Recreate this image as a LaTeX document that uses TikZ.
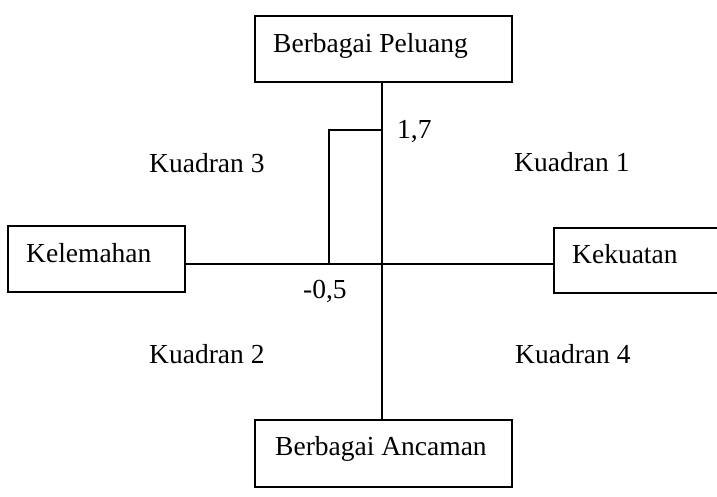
\documentclass[tikz,border=0pt]{standalone}
\usepackage{fontspec}
\setmainfont{Liberation Serif}
\begin{document}
\begin{tikzpicture}[x=1pt,y=-1pt,
  box/.style={draw, line width=1.3pt, inner sep=0pt, rectangle},
  txt/.style={anchor=base west, inner sep=0pt, font=\fontsize{27.5}{32}\selectfont},
  ln/.style={line width=1.3pt}]
\useasboundingbox (0,0) rectangle (717,496);
\clip (0,0) rectangle (717,496);
% boxes
\node[box, minimum width=257pt, minimum height=66pt] (top) at (383.5,49) {};
\node[box, minimum width=257pt, minimum height=67pt] (bot) at (383.5,453.5) {};
\node[box, minimum width=177pt, minimum height=66pt] (lbox) at (96.5,259) {};
\node[box, minimum width=200pt, minimum height=65pt] (rbox) at (654,260.5) {};
% texts
\node[txt] (ttop) at (273,52) {Berbagai Peluang};
\node[txt] (tbot) at (275,455) {Berbagai Ancaman};
\node[txt] (tl) at (26,262) {Kelemahan};
\node[txt] (tr) at (572,263) {Kekuatan};
\node[txt] (k1) at (514,171) {Kuadran 1};
\node[txt] (k3) at (149,172) {Kuadran 3};
\node[txt] (k2) at (149,363) {Kuadran 2};
\node[txt] (k4) at (515,363) {Kuadran 4};
\node[txt] (v17) at (397,138) {1,7};
\node[txt] (v05) at (303,298) {-0,5};
% axes
\coordinate (o) at (382,264);
\coordinate (b1) at (382,130);
\coordinate (c05) at (329,264);
\draw[ln] (o |- top.south) -- (o |- bot.north);
\draw[ln] (o -| lbox.east) -- (o -| rbox.west);
\draw[ln] (b1) -| (c05);
\end{tikzpicture}
\end{document}
